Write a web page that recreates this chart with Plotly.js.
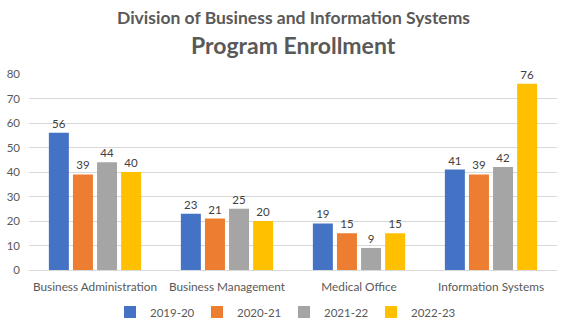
<!DOCTYPE html>
<html><head><meta charset="utf-8">
<script src="https://cdn.plot.ly/plotly-3.0.1.min.js"></script>
<style>body{margin:0;padding:0;background:#fff}#chart{width:568px;height:324px}</style>
</head><body><div id="chart"></div>
<script>
const categories = ["Business Administration","Business Management","Medical Office","Information Systems"];
const seriesNames = ["2019-20","2020-21","2021-22","2022-23"];
const v2019 = [56,23,19,41];
const v2020 = [39,21,15,39];
const v2021 = [44,25,9,42];
const v2022 = [40,20,15,76];
const yTicks = [0,10,20,30,40,50,60,70,80];
const colors = ["#4472C4","#ED7D31","#A5A5A5","#FFC000"];
const values = [v2019,v2020,v2021,v2022];
const FONT = "Lato, 'Open Sans', sans-serif";
const traces = values.map((v,i)=>({
  type:'bar', x:categories, y:v, name:seriesNames[i],
  marker:{color:colors[i]}, text:v.map(String), textposition:'outside',
  textfont:{size:11.5,color:'#404040',family:FONT}, cliponaxis:false, hoverinfo:'none'
}));
const layout = {
  width:568, height:324, margin:{l:29,r:11,t:74,b:54,autoexpand:false},
  paper_bgcolor:'#fff', plot_bgcolor:'#fff',
  font:{family:FONT,size:11,color:'#595959'},
  barmode:'group', bargap:0.27, bargroupgap:0.17,
  showlegend:true,
  legend:{orientation:'h',x:0.5,xanchor:'center',xref:'container',yref:'container',y:0.037,yanchor:'middle',
    font:{size:11.5,color:'#595959'},itemwidth:30,entrywidth:42,entrywidthmode:'pixels',traceorder:'normal'},
  xaxis:{showgrid:false,showline:true,linecolor:'#D9D9D9',linewidth:1,ticks:'',tickfont:{size:11.8,color:'#595959'},ticklabelstandoff:6},
  yaxis:{range:[0,80],tickvals:yTicks,showgrid:true,gridcolor:'#D9D9D9',zeroline:false,showline:false,ticks:'',tickfont:{size:11.5,color:'#595959'},ticklabelstandoff:8},
  annotations:[
    {text:'<b>Division of Business and Information Systems</b>',xref:'paper',yref:'paper',x:0.5,y:1.286,xanchor:'center',yanchor:'middle',showarrow:false,font:{size:17.5,color:'#595959',family:FONT}},
    {text:'<b>Program Enrollment</b>',xref:'paper',yref:'paper',x:0.5,y:1.148,xanchor:'center',yanchor:'middle',showarrow:false,font:{size:23,color:'#595959',family:FONT}}
  ]
};
Plotly.newPlot('chart',traces,layout,{displayModeBar:false,staticPlot:true});
</script></body></html>
